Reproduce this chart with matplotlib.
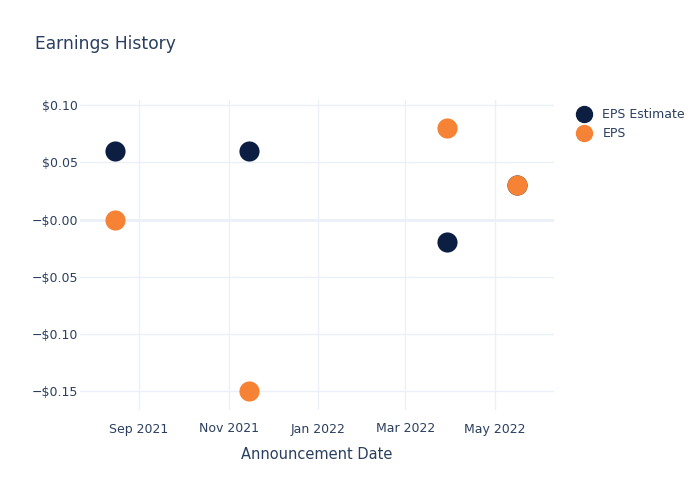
import matplotlib
matplotlib.use("Agg")
import matplotlib.pyplot as plt
from matplotlib.lines import Line2D
import datetime as dt

dates = ["2021-08-16", "2021-11-15", "2022-03-29", "2022-05-16"]
eps_estimate = [0.06, 0.06, -0.02, 0.03]
eps_actual = [0.00, -0.15, 0.08, 0.03]
y_ticks = [0.10, 0.05, 0.0, -0.05, -0.10, -0.15]
y_tick_labels = ["$0.10", "$0.05", "\u2212$0.00", "\u2212$0.05", "\u2212$0.10", "\u2212$0.15"]
x_ticks = ["2021-09-01", "2021-11-01", "2022-01-01", "2022-03-01", "2022-05-01"]
x_tick_labels = ["Sep 2021", "Nov 2021", "Jan 2022", "Mar 2022", "May 2022"]

TEXT = "#2a3f5f"
GRID = "#ebf0f8"
NAVY = "#0c1f42"
ORANGE = "#f58235"

plt.rcParams['font.family'] = ['DejaVu Sans']

fig = plt.figure(figsize=(7, 5), dpi=100)
ax = fig.add_axes([80/700, 1 - 410/500, (554-80)/700, (410-100)/500])

xd = [dt.datetime.strptime(d, "%Y-%m-%d") for d in dates]
ms = 14.5
ax.scatter(xd, eps_estimate, s=ms**2, color=NAVY, zorder=3, linewidths=0)
ax.scatter(xd, eps_actual, s=ms**2, color=ORANGE, zorder=4, linewidths=0)

ax.set_xlim(dt.datetime(2021, 7, 23), dt.datetime(2022, 6, 10))
ax.set_ylim(-0.1665, 0.1045)

xt = [dt.datetime.strptime(d, "%Y-%m-%d") for d in x_ticks]
ax.set_xticks(xt)
ax.set_xticklabels(x_tick_labels)
ax.set_yticks(y_ticks)
ax.set_yticklabels(y_tick_labels)

for s in ax.spines.values():
    s.set_visible(False)
ax.grid(True, color=GRID, linewidth=1)
ax.axhline(0, color=GRID, linewidth=2, zorder=1)
ax.set_axisbelow(True)
ax.tick_params(axis='both', length=0, colors=TEXT, labelsize=9)
ax.tick_params(axis='x', pad=9)
ax.tick_params(axis='y', pad=1.5)

ax.set_xlabel("Announcement Date", color=TEXT, fontsize=10.5, labelpad=8)

fig.text(35/700, 1 - 44/500, "Earnings History", color=TEXT, fontsize=12.3, va='center', ha='left')

handles = [Line2D([], [], marker='o', linestyle='', markersize=11.5, color=NAVY, label="EPS Estimate"),
           Line2D([], [], marker='o', linestyle='', markersize=11.5, color=ORANGE, label="EPS")]
leg = fig.legend(handles=handles, loc='upper left', bbox_to_anchor=(565/700, 1 - 97/500),
                 frameon=False, fontsize=9, labelcolor=TEXT, handletextpad=0.9,
                 labelspacing=0.45, handlelength=1.2)

fig.savefig("out.png", dpi=100, facecolor="white")
